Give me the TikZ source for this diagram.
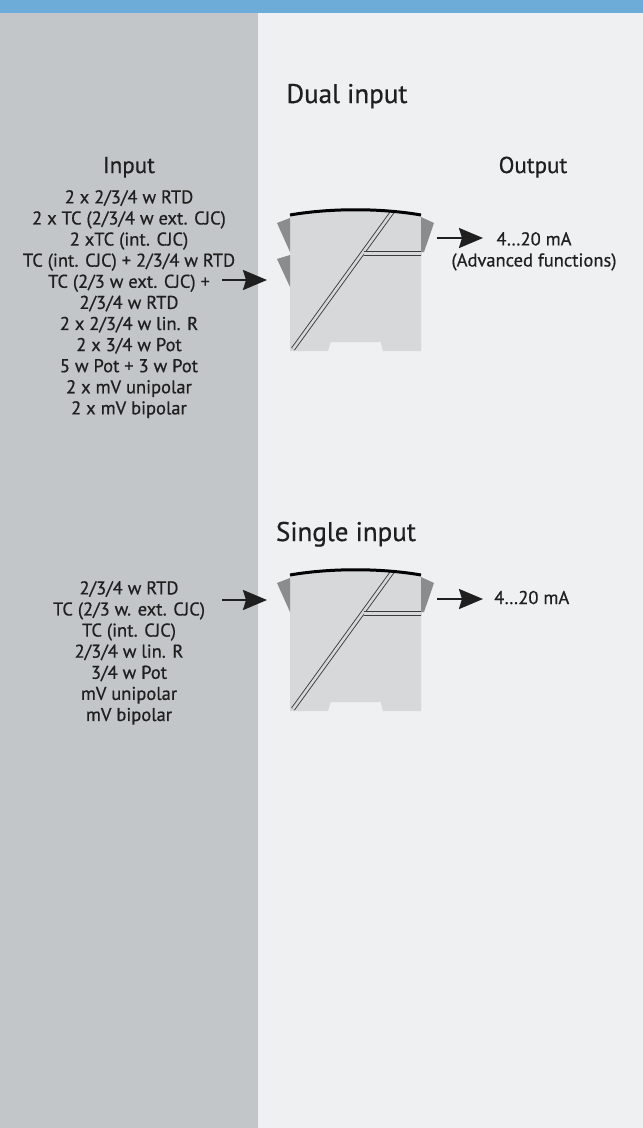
\documentclass[tikz,border=0pt]{standalone}
\usepackage{fontspec}
\setmainfont{PT Sans}[FakeBold=0.6]
\usetikzlibrary{arrows.meta}
\definecolor{topblue}{HTML}{6DABD8}
\definecolor{panelgray}{HTML}{C3C6C8}
\definecolor{pagegray}{HTML}{EFF0F2}
\definecolor{bodygray}{HTML}{D7D8DA}
\definecolor{tabgray}{HTML}{8A8C8E}
\definecolor{railgray}{HTML}{3C3C3C}
\definecolor{txt}{HTML}{1F1F1F}
\newcommand{\modulebody}{(0,2) .. controls (40,-5) and (91,-5) .. (131,2) -- (131,138) -- (93,138) -- (90.7,129) -- (40.7,129) -- (38,138) -- (0,138) -- cycle}
\tikzset{
    heading/.style={font=\fontsize{27}{31}\selectfont, text=txt, inner sep=0, anchor=base},
    subheading/.style={heading, font=\fontsize{23}{27}\selectfont},
    listtext/.style={font=\fontsize{18.5}{21.1}\selectfont, text=txt, align=center, inner sep=0, anchor=north},
    signal/.style={-{Stealth[length=24pt,width=20pt,inset=3pt]}, line width=2.4pt, draw=txt},
    rail/.style={draw=railgray, line width=0.9pt, double=bodygray, double distance=2.6pt},
    tab/.style={fill=tabgray},
    pics/module/.style={code={
        \fill[bodygray] \modulebody;
        \begin{scope}
            \clip \modulebody;
            \draw[rail] (3,136) -- (103,-2);
            \draw[rail] (73.5,40.3) -- (132,40.3);
        \end{scope}
        \fill[tab] (-13,10) -- (0,5) -- (0,39) -- cycle;
        \fill[tab] (131,4) -- (144,10) -- (134,39) -- (131,39) -- cycle;
        \draw[black, line width=3pt] (0,2) .. controls (40,-5) and (91,-5) .. (131,2);
    }}
}

\begin{document}
\begin{tikzpicture}[x=1pt, y=-1pt]
\useasboundingbox (0,0) rectangle (643,1128);
% background
\fill[pagegray] (0,0) rectangle (643,1128);
\fill[panelgray] (0,13) rectangle (258,1128);
\fill[topblue] (0,0) rectangle (643,13);

% dual input
\node[heading] (dualhead) at (347,103) {Dual input};
\node[subheading] (inhead) at (129,173) {Input};
\node[subheading] (outhead) at (533,173) {Output};
\node[listtext] (duallist) at (129,190) {2 x 2/3/4 w RTD\\ 2 x TC (2/3/4 w ext. CJC)\\ 2 xTC (int. CJC)\\ TC (int. CJC) + 2/3/4 w RTD\\ TC (2/3 w ext. CJC) +\\ 2/3/4 w RTD\\ 2 x 2/3/4 w lin. R\\ 2 x 3/4 w Pot\\ 5 w Pot + 3 w Pot\\ 2 x mV unipolar\\ 2 x mV bipolar};
\pic (dualmod) at (290,213) {module};
\fill[tab] (277,259) -- (290,255) -- (290,287) -- cycle;
\node[listtext] (dualout) at (534,232) {4…20 mA\\ (Advanced functions)};

\coordinate (dualinA) at (222,280);
\coordinate (dualinB) at (267,280);
\coordinate (dualoutA) at (437,238);
\coordinate (dualoutB) at (483,238);
\draw[signal] (dualinA) -- (dualinB);
\draw[signal] (dualoutA) -- (dualoutB);

% single input
\node[heading] (singlehead) at (346,541) {Single input};
\node[listtext] (singlelist) at (129,581) {2/3/4 w RTD\\ TC (2/3 w. ext. CJC)\\ TC (int. CJC)\\ 2/3/4 w lin. R\\ 3/4 w Pot\\ mV unipolar\\ mV bipolar};
\pic (singlemod) at (290,573) {module};
\node[listtext, anchor=base west] (singleout) at (494,604) {4…20 mA};

\coordinate (singleinA) at (222,600);
\coordinate (singleinB) at (267,600);
\coordinate (singleoutA) at (437,599);
\coordinate (singleoutB) at (483,599);
\draw[signal] (singleinA) -- (singleinB);
\draw[signal] (singleoutA) -- (singleoutB);

\end{tikzpicture}
\end{document}
